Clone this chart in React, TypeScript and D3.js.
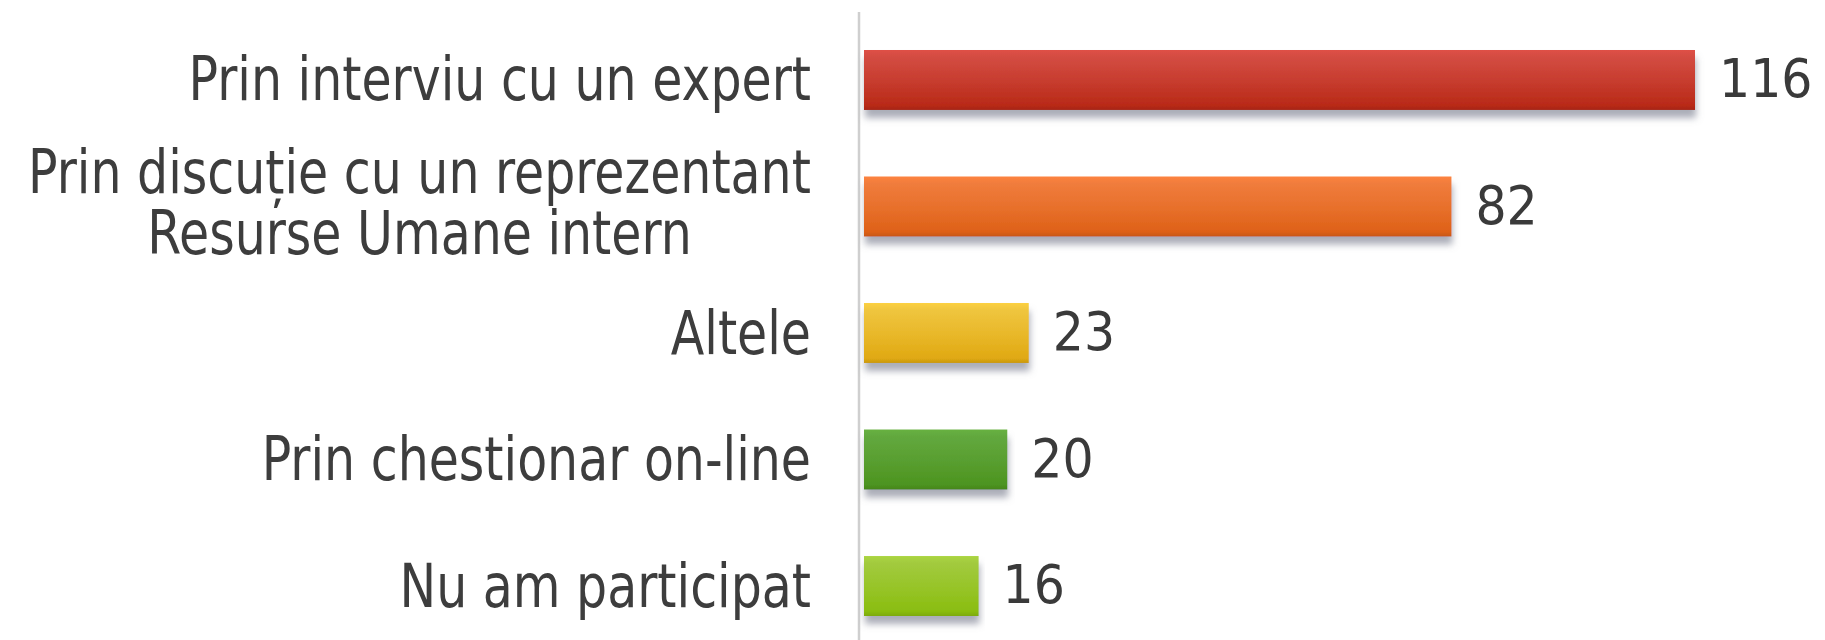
import React from "react";
import * as d3 from "d3";

const categories: string[][] = [
  ["Prin interviu cu un expert"],
  ["Prin discuție cu un reprezentant", "Resurse Umane intern"],
  ["Altele"],
  ["Prin chestionar on-line"],
  ["Nu am participat"],
];
const values: number[] = [116, 82, 23, 20, 16];
const barTop: string[] = ["#d34c42", "#f07c3c", "#efc53e", "#62a83e", "#a2ca3e"];
const barBottom: string[] = ["#b92a18", "#de6118", "#e0a912", "#4d9420", "#8abd10"];

const W = 1825;
const H = 640;
const FONT = "'DejaVu Sans', Verdana, sans-serif";
const CAT_SIZE = 49;
const VAL_SIZE = 49;
const SY = 1.23;
const SY_VAL = 1.1;

let ctx: CanvasRenderingContext2D | null = null;
function measure(text: string, size: number): number {
  if (!ctx) ctx = document.createElement("canvas").getContext("2d");
  if (!ctx) return text.length * size * 0.6;
  ctx.font = `${size}px ${FONT}`;
  return ctx.measureText(text).width;
}

export default function App() {
  const keys = categories.map((c) => c.join(" "));
  const x = d3.scaleLinear().domain([0, d3.max(values) as number]).range([864, 1695]);
  const y = d3.scaleBand<string>().domain(keys).range([50, 616]).paddingInner(0.526).paddingOuter(0);
  const labelRight = 811;
  const lineH = 50;

  return (
    <svg width={W} height={H} style={{ position: "absolute", left: 0, top: 0, background: "#fff" }}>
      <defs>
        {barTop.map((c, i) => (
          <linearGradient key={i} id={`g${i}`} x1="0" y1="0" x2="0" y2="1">
            <stop offset="0" stopColor={d3.color(c)!.brighter(0.15).toString()} />
            <stop offset="0.12" stopColor={c} />
            <stop offset="0.55" stopColor={d3.interpolateRgb(c, barBottom[i])(0.5)} />
            <stop offset="0.92" stopColor={barBottom[i]} />
            <stop offset="1" stopColor={d3.color(barBottom[i])!.darker(0.3).toString()} />
          </linearGradient>
        ))}
        <filter id="sh" x="-5%" y="-30%" width="110%" height="170%">
          <feDropShadow dx="1" dy="8" stdDeviation="3.5" floodColor="#727789" floodOpacity="0.6" />
        </filter>
      </defs>
      <line x1={859} x2={859} y1={12} y2={H} stroke="#cfcfcf" strokeWidth={2.5} />
      {keys.map((k, i) => {
        const y0 = y(k) as number;
        const bw = y.bandwidth();
        const cy = y0 + bw / 2;
        const lines = categories[i];
        const maxW = Math.max(...lines.map((l) => measure(l, CAT_SIZE)));
        const multi = lines.length > 1;
        const firstBase = CAT_SIZE * 0.34 - ((lines.length - 1) * lineH) / 2 - (multi ? 3 : 0);
        return (
          <g key={k}>
            <rect
              x={x(0)}
              y={y0}
              width={x(values[i]) - x(0)}
              height={bw}
              fill={`url(#g${i})`}
              filter="url(#sh)"
            />
            <g transform={`translate(0,${cy}) scale(1,${SY})`}>
              {lines.map((l, j) => (
                <text
                  key={j}
                  fontFamily={FONT}
                  fontSize={CAT_SIZE}
                  fill="#3d3d3d"
                  textAnchor={multi ? "middle" : "end"}
                  x={multi ? labelRight - maxW / 2 : labelRight}
                  y={firstBase + j * lineH}
                >
                  {l}
                </text>
              ))}
            </g>
            <g transform={`translate(${x(values[i]) + 24},${cy - 2}) scale(1,${SY_VAL})`}>
              <text fontFamily={FONT} fontSize={VAL_SIZE} fill="#3a3a3a" dy="0.36em">
                {values[i]}
              </text>
            </g>
          </g>
        );
      })}
    </svg>
  );
}
